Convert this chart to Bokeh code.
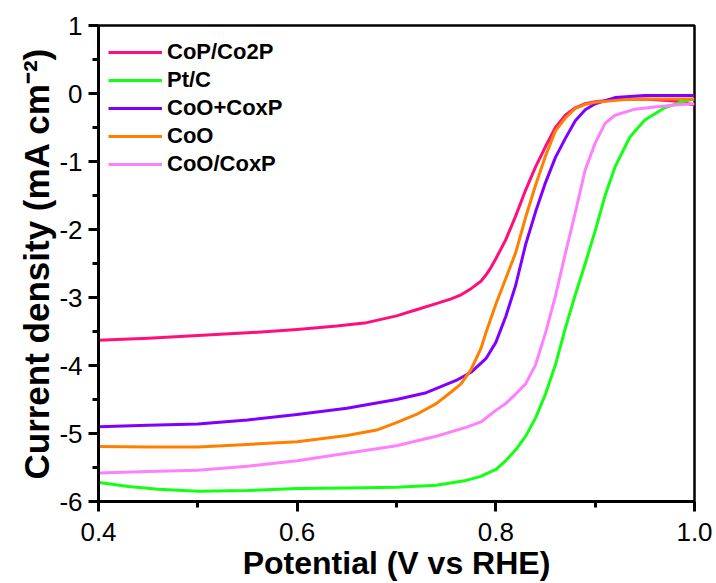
from bokeh.plotting import figure
from bokeh.models import Range1d, FixedTicker, CustomJSTickFormatter, Legend, LegendItem
from bokeh.embed import file_html
from bokeh.resources import INLINE

# ---- data ----
names = ["CoP/Co2P", "Pt/C", "CoO+CoxP", "CoO", "CoO/CoxP"]
colors = ["#FF0F7B", "#14FF14", "#8000FF", "#FF8000", "#FF80FF"]

cop_v = [0.40, 0.45, 0.50, 0.55, 0.60, 0.64, 0.67, 0.70, 0.72, 0.74, 0.755, 0.765, 0.775, 0.785, 0.79,
         0.795, 0.80, 0.81, 0.82, 0.83, 0.84, 0.85, 0.86, 0.87, 0.88, 0.89, 0.90, 0.92, 0.95, 0.98, 1.00]
cop_j = [-3.63, -3.60, -3.56, -3.52, -3.47, -3.42, -3.37, -3.27, -3.18, -3.09, -3.02, -2.96, -2.87, -2.76, -2.67,
         -2.56, -2.43, -2.15, -1.80, -1.42, -1.08, -0.78, -0.50, -0.32, -0.21, -0.15, -0.12, -0.09, -0.08, -0.11, -0.17]

ptc_v = [0.40, 0.41, 0.43, 0.46, 0.50, 0.55, 0.60, 0.65, 0.70, 0.74, 0.77, 0.785, 0.795, 0.80,
         0.81, 0.82, 0.83, 0.84, 0.85, 0.86, 0.87, 0.88, 0.89, 0.90, 0.91, 0.92, 0.935, 0.95, 0.97, 0.99, 1.00]
ptc_j = [-5.72, -5.74, -5.78, -5.82, -5.85, -5.84, -5.81, -5.80, -5.79, -5.76, -5.69, -5.63, -5.56, -5.53,
         -5.40, -5.24, -5.04, -4.77, -4.42, -3.99, -3.45, -2.96, -2.50, -2.02, -1.50, -1.08, -0.64, -0.39, -0.21, -0.11, -0.08]

coo_cox_v = [0.40, 0.45, 0.50, 0.55, 0.60, 0.65, 0.70, 0.73, 0.76, 0.775, 0.79, 0.80, 0.81, 0.82,
             0.83, 0.84, 0.85, 0.86, 0.87, 0.88, 0.89, 0.90, 0.92, 0.95, 1.00]
coo_cox_j = [-4.90, -4.88, -4.86, -4.80, -4.72, -4.63, -4.50, -4.40, -4.22, -4.10, -3.90, -3.66, -3.28, -2.82,
             -2.22, -1.74, -1.31, -0.94, -0.66, -0.40, -0.24, -0.15, -0.06, -0.03, -0.03]

coo_v = [0.40, 0.45, 0.50, 0.55, 0.60, 0.65, 0.68, 0.70, 0.72, 0.74, 0.755, 0.765, 0.775, 0.785,
         0.79, 0.80, 0.81, 0.82, 0.83, 0.84, 0.85, 0.86, 0.87, 0.88, 0.89, 0.90, 0.93, 0.96, 1.00]
coo_j = [-5.19, -5.20, -5.20, -5.16, -5.12, -5.03, -4.95, -4.84, -4.72, -4.56, -4.39, -4.27, -4.06, -3.75,
         -3.52, -3.10, -2.72, -2.34, -1.82, -1.35, -0.92, -0.55, -0.36, -0.22, -0.16, -0.13, -0.09, -0.08, -0.08]

cooslash_v = [0.40, 0.45, 0.50, 0.55, 0.60, 0.65, 0.70, 0.74, 0.77, 0.785, 0.80, 0.81, 0.82, 0.83,
              0.84, 0.85, 0.86, 0.87, 0.88, 0.89, 0.90, 0.91, 0.92, 0.94, 0.96, 0.98, 1.00]
cooslash_j = [-5.58, -5.56, -5.54, -5.48, -5.40, -5.29, -5.18, -5.04, -4.91, -4.83, -4.66, -4.56, -4.42, -4.27,
              -3.99, -3.52, -2.98, -2.35, -1.75, -1.12, -0.73, -0.44, -0.32, -0.23, -0.20, -0.17, -0.15]

series_v = [cop_v, ptc_v, coo_cox_v, coo_v, cooslash_v]
series_j = [cop_j, ptc_j, coo_cox_j, coo_j, cooslash_j]

x_ticks = [0.4, 0.6, 0.8, 1.0]
x_minor = [0.5, 0.7, 0.9]
y_ticks = [1, 0, -1, -2, -3, -4, -5, -6]
y_minor = [0.5, -0.5, -1.5, -2.5, -3.5, -4.5, -5.5]

x_title = "Potential (V vs RHE)"
y_title = "Current density (mA cm\u207b\u00b2)"

FONT = "Liberation Sans"

p = figure(width=716, height=583, output_backend="svg", toolbar_location=None,
           x_range=Range1d(0.4, 1.0), y_range=Range1d(-6, 1),
           min_border_left=98, min_border_right=22, min_border_top=25, min_border_bottom=79)

p.xgrid.visible = False
p.ygrid.visible = False
p.outline_line_color = "black"
p.outline_line_width = 2.5
p.outline_line_alpha = 1.0

renderers = []
for v, j, c in zip(series_v, series_j, colors):
    r = p.line(v, j, line_color=c, line_width=3, line_join="round")
    renderers.append(r)

# axes
p.xaxis.ticker = FixedTicker(ticks=x_ticks, minor_ticks=x_minor)
p.yaxis.ticker = FixedTicker(ticks=y_ticks, minor_ticks=y_minor)
p.xaxis.formatter = CustomJSTickFormatter(code="return tick.toFixed(1);")
p.yaxis.formatter = CustomJSTickFormatter(code="return Math.round(tick).toString();")

for ax in (p.xaxis[0], p.yaxis[0]):
    ax.axis_line_width = 3
    ax.axis_line_color = "black"
    ax.major_tick_line_width = 3
    ax.minor_tick_line_width = 3
    ax.major_tick_line_color = "black"
    ax.minor_tick_line_color = "black"
    ax.major_tick_in = 0
    ax.minor_tick_in = 0
    ax.major_tick_out = 10
    ax.minor_tick_out = 6
    ax.major_label_text_font = FONT
    ax.major_label_text_font_size = "26px"
    ax.major_label_text_color = "black"
    ax.axis_label_text_font = FONT
    ax.axis_label_text_font_style = "bold"
    ax.axis_label_text_color = "black"

p.xaxis.axis_label = x_title
p.xaxis.axis_label_text_font_size = "32px"
p.xaxis.major_label_standoff = 11
p.xaxis.axis_label_standoff = 1

p.yaxis.axis_label = y_title
p.yaxis.axis_label_text_font_size = "35px"
p.yaxis.major_label_standoff = 6
p.yaxis.axis_label_standoff = 0

items = [LegendItem(label=n, renderers=[r]) for n, r in zip(names, renderers)]
legend = Legend(items=items, location="top_left")
legend.border_line_color = None
legend.background_fill_alpha = 0
legend.margin = 10
legend.padding = 0
legend.title = " "
legend.title_text_font_size = "2px"
legend.title_standoff = 1
legend.glyph_width = 54
legend.glyph_height = 28
legend.label_height = 20
legend.spacing = 0
legend.label_standoff = 5
legend.label_text_font = FONT
legend.label_text_font_style = "bold"
legend.label_text_font_size = "22px"
legend.label_text_color = "black"
p.add_layout(legend)

open("out.html", "w").write(file_html(p, INLINE))
